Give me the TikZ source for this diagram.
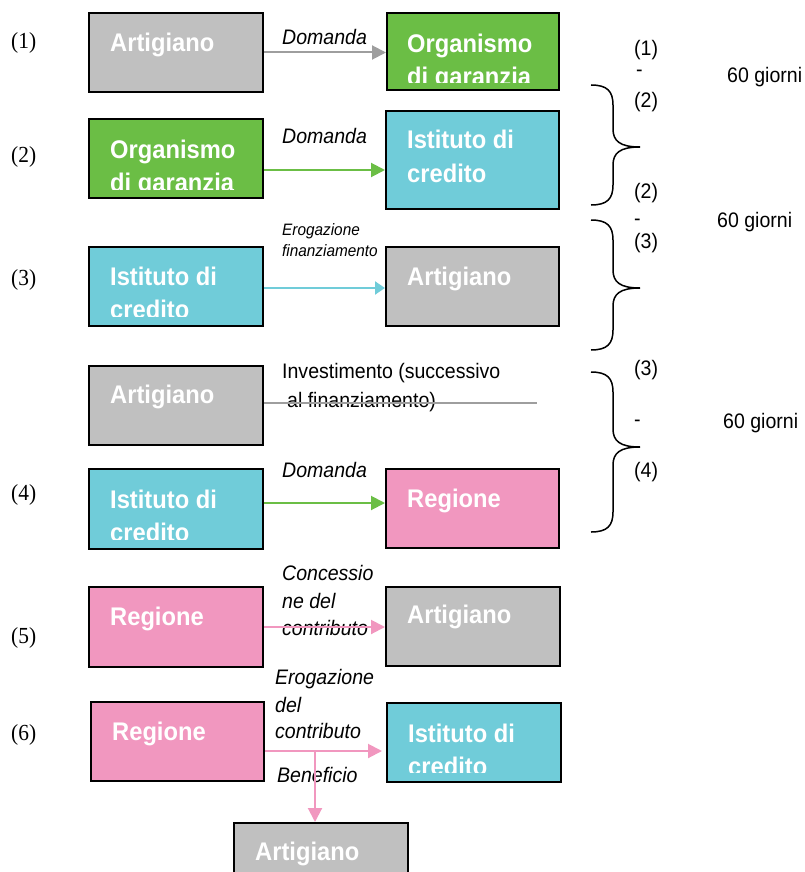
\documentclass[tikz,border=0pt]{standalone}
\usepackage{fontspec}
\usetikzlibrary{arrows.meta}
\newfontfamily\sansf{Liberation Sans}[FakeStretch=0.93]
\newfontfamily\seriff{Liberation Serif}[FakeStretch=0.93]
\definecolor{cgray}{HTML}{C0C0C0}
\definecolor{cgreen}{HTML}{6BBE45}
\definecolor{ccyan}{HTML}{70CCD9}
\definecolor{cpink}{HTML}{F197BF}
\definecolor{agray}{HTML}{9E9E9E}
\newcommand{\mycurly}[3]{%
  \draw[bracepath] (591,#1) .. controls (607,#1) and (613,#1+6) .. (613,#1+20)
    -- (613,#2-18) .. controls (613,#2-6) and (620,#2) .. (640,#2)
    .. controls (620,#2) and (613,#2+6) .. (613,#2+18)
    -- (613,#3-20) .. controls (613,#3-6) and (607,#3) .. (591,#3);}
\begin{document}
\begin{tikzpicture}[x=1pt,y=-1pt,
  box/.style={draw=black, line width=2pt, minimum width=174pt, minimum height=79pt, inner sep=0pt},
  boxtxt/.style={anchor=base west, inner sep=0pt, text=white, font=\sansf\bfseries\fontsize{25.5}{30}\selectfont},
  lab/.style={anchor=base west, inner sep=0pt, font=\sansf\itshape\fontsize{21}{25}\selectfont},
  smalllab/.style={anchor=base west, inner sep=0pt, font=\sansf\itshape\fontsize{16.5}{20}\selectfont},
  plainlab/.style={anchor=base west, inner sep=0pt, font=\sansf\fontsize{21}{25}\selectfont},
  side/.style={anchor=west, inner sep=0pt, font=\sansf\fontsize{21}{25}\selectfont},
  step/.style={},
  num/.style={anchor=west, inner sep=0pt, font=\seriff\fontsize{23}{27}\selectfont},
  arr/.style={line width=2pt, -{Triangle[length=14pt,width=14pt]}},
  bracepath/.style={line width=1.5pt, black}
]
\useasboundingbox (0,0) rectangle (804,872);
\clip (0,0) rectangle (804,872);

% row labels
\node[num] (n1) at (11,43) {(1)};
\node[num] (n2) at (11,157) {(2)};
\node[num] (n3) at (11,280) {(3)};
\node[num] (n4) at (11,495) {(4)};
\node[num] (n5) at (11,638) {(5)};
\node[num] (n6) at (11,735) {(6)};

% boxes
\node[box, fill=cgray] (a1) at (176,52.5) {};
\node[box, fill=cgreen, minimum width=172pt, minimum height=77pt] (o1) at (473,51.5) {};
\node[box, fill=cgreen] (o2) at (176,158.5) {};
\node[box, fill=ccyan, minimum width=173pt, minimum height=98pt] (i2) at (472.5,160) {};
\node[box, fill=ccyan] (i3) at (176,286.5) {};
\node[box, fill=cgray, minimum width=173pt] (a3) at (472.5,286.5) {};
\node[box, fill=cgray] (a4) at (176,405.5) {};
\node[box, fill=ccyan, minimum height=80pt] (i4) at (176,509) {};
\node[box, fill=cpink, minimum width=173pt] (r4) at (472.5,508.5) {};
\node[box, fill=cpink, minimum height=80pt] (r5) at (176,627) {};
\node[box, fill=cgray] (a5) at (473,626.5) {};
\node[box, fill=cpink, minimum width=173pt] (r6) at (177.5,741.5) {};
\node[box, fill=ccyan] (i6) at (474,742.5) {};
\node[box, fill=cgray] (a7) at (321,862.5) {};

% box texts
\node[boxtxt] (a1t) at (110,52) {Artigiano};
\begin{scope}
  \clip (o1.north west) rectangle ([yshift=8pt]o1.south east);
  \node[boxtxt] (o1t) at (407,53) {Organismo};
  \node[boxtxt] (o1u) at (407,86) {di garanzia};
\end{scope}
\begin{scope}
  \clip (o2.north west) rectangle ([yshift=10pt]o2.south east);
  \node[boxtxt] (o2t) at (110,158) {Organismo};
  \node[boxtxt] (o2u) at (110,191) {di garanzia};
\end{scope}
\node[boxtxt] (i2t) at (407,148) {Istituto di};
\node[boxtxt] (i2u) at (407,182) {credito};
\begin{scope}
  \clip (i3.north west) rectangle ([yshift=11pt]i3.south east);
  \node[boxtxt] (i3t) at (110,285) {Istituto di};
  \node[boxtxt] (i3u) at (110,318) {credito};
\end{scope}
\node[boxtxt] (a3t) at (407,285) {Artigiano};
\node[boxtxt] (a4t) at (110,403) {Artigiano};
\begin{scope}
  \clip (i4.north west) rectangle ([yshift=11pt]i4.south east);
  \node[boxtxt] (i4t) at (110,508) {Istituto di};
  \node[boxtxt] (i4u) at (110,541) {credito};
\end{scope}
\node[boxtxt] (r4t) at (407,507) {Regione};
\node[boxtxt] (r5t) at (110,625) {Regione};
\node[boxtxt] (a5t) at (407,623) {Artigiano};
\node[boxtxt] (r6t) at (112,740) {Regione};
\begin{scope}
  \clip (i6.north west) rectangle ([yshift=11pt]i6.south east);
  \node[boxtxt] (i6t) at (408,742) {Istituto di};
  \node[boxtxt] (i6u) at (408,775) {credito};
\end{scope}
\node[boxtxt] (a7t) at (255,860) {Artigiano};

% connector labels
\node[lab] (d1) at (282,45) {Domanda};
\node[lab] (d2) at (282,143) {Domanda};
\node[smalllab] (e3) at (282,235) {Erogazione};
\node[smalllab] (e3b) at (282,256) {finanziamento};
\node[plainlab] (inv1) at (282,378) {Investimento (successivo};
\node[plainlab] (inv2) at (287,407) {al finanziamento)};
\node[lab] (d4) at (282,477) {Domanda};
\node[lab] (c5a) at (282,580) {Concessio};
\node[lab] (c5b) at (282,608) {ne del};
\node[lab] (c5c) at (282,635) {contributo};
\node[lab] (e6a) at (275,684) {Erogazione};
\node[lab] (e6b) at (275,712) {del};
\node[lab] (e6c) at (275,738) {contributo};
\node[lab] (ben) at (277,782) {Beneficio};

% connectors
\draw[arr, agray] (a1.east) -- (a1.east -| o1.west);
\draw[arr, cgreen] (o2.east) ++(0,11.5) coordinate (s2) -- (s2 -| i2.west);
\draw[line width=2pt, ccyan, -{Triangle[length=10pt,width=13pt]}] (i3.east) ++(0,1.5) coordinate (s3) -- (s3 -| a3.west);
\draw[line width=2pt, agray] (a4.east) ++(0,-2.5) coordinate (s4) -- ++(273,0) coordinate (f4);
\draw[arr, cgreen] (i4.east) ++(0,-6) coordinate (s5) -- (s5 -| r4.west);
\draw[arr, cpink] (r5.east) -- (r5.east -| a5.west);
\draw[arr, cpink] (r6.east) ++(0,9.5) coordinate (s6) -- ([xshift=-4pt]s6 -| i6.west);
\path (r6.east) ++(50,9.5) coordinate (j);
\draw[arr, cpink] (j) -- (j |- a7.north);

% braces
\mycurly{85}{147}{205}
\mycurly{220}{288}{350}
\mycurly{372}{447}{532}

% right side texts
\node[side] (b1a) at (634,50) {(1)};
\node[side] (b1b) at (636,73) {-};
\node[side] (b1g) at (727,77) {60 giorni};
\node[side] (b1c) at (634,102) {(2)};
\node[side] (b2a) at (634,193) {(2)};
\node[side] (b2b) at (634,222) {-};
\node[side] (b2g) at (717,222) {60 giorni};
\node[side] (b2c) at (634,243) {(3)};
\node[side] (b3a) at (634,370) {(3)};
\node[side] (b3b) at (634,423) {-};
\node[side] (b3g) at (723,423) {60 giorni};
\node[side] (b3c) at (634,472) {(4)};
\end{tikzpicture}
\end{document}
